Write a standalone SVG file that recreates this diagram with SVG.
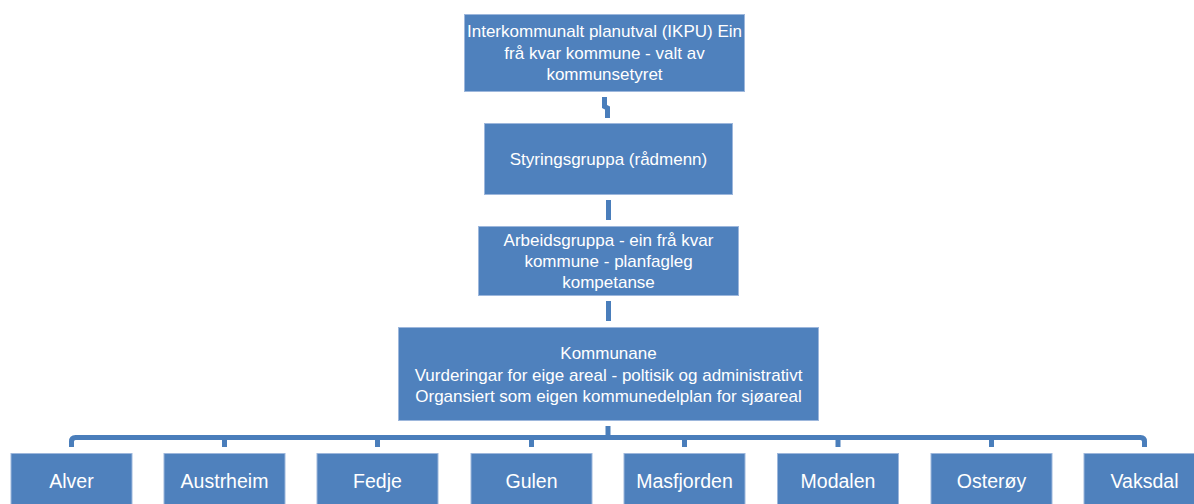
<svg xmlns="http://www.w3.org/2000/svg" width="1194" height="504" viewBox="0 0 1194 504">
<style>
.box{fill:#4f81bd;stroke:#9db7dc;stroke-width:1}
.t{fill:#ffffff;font-family:"Liberation Sans",Arial,sans-serif;font-size:17px;text-anchor:middle}
.b{font-size:19.5px}
.c{fill:none;stroke:#4a7ebb;stroke-width:5}
</style>
<rect width="1194" height="504" fill="#ffffff"/>
<g id="connectors">
<path class="c" d="M604.5,97 V106.5 L607.5,108 V118"/>
<path class="c" d="M608.5,200 V220"/>
<path class="c" d="M608.5,301 V321"/>
<path class="c" d="M608,426 V437"/>
<path class="c" d="M71.5,447 V441.5 Q71.5,437.5 75.5,437.5 H1140.5 Q1144.5,437.5 1144.5,441.5 V447"/>
<path class="c" d="M224.5,437 V447 M377.5,437 V447 M531.5,437 V447 M684.5,437 V447 M838,437 V447 M991.5,437 V447"/>
</g>
<g id="ikpu">
<rect class="box" x="464.5" y="14.5" width="280" height="77"/>
<text class="t" x="604.5" y="37">Interkommunalt planutval (IKPU) Ein</text>
<text class="t" x="604.5" y="59">frå kvar kommune - valt av</text>
<text class="t" x="604.5" y="80">kommunsetyret</text>
</g>
<g id="styringsgruppa">
<rect class="box" x="484.5" y="123.5" width="248" height="71"/>
<text class="t" x="608.5" y="165">Styringsgruppa (rådmenn)</text>
</g>
<g id="arbeidsgruppa">
<rect class="box" x="478.5" y="226.5" width="260" height="69"/>
<text class="t" x="608.5" y="246">Arbeidsgruppa - ein frå kvar</text>
<text class="t" x="608.5" y="267">kommune - planfagleg</text>
<text class="t" x="608.5" y="288">kompetanse</text>
</g>
<g id="kommunane">
<rect class="box" x="398.5" y="327.5" width="420" height="93"/>
<text class="t" x="608.5" y="359">Kommunane</text>
<text class="t" x="608.5" y="381">Vurderingar for eige areal - poltisik og administrativt</text>
<text class="t" x="608.5" y="402">Organsiert som eigen kommunedelplan for sjøareal</text>
</g>
<g id="alver">
<rect class="box" x="11" y="453.5" width="121" height="60"/>
<text class="t b" x="71.5" y="488">Alver</text>
</g>
<g id="austrheim">
<rect class="box" x="164" y="453.5" width="121" height="60"/>
<text class="t b" x="224.5" y="488">Austrheim</text>
</g>
<g id="fedje">
<rect class="box" x="317" y="453.5" width="121" height="60"/>
<text class="t b" x="377.5" y="488">Fedje</text>
</g>
<g id="gulen">
<rect class="box" x="471" y="453.5" width="121" height="60"/>
<text class="t b" x="531.5" y="488">Gulen</text>
</g>
<g id="masfjorden">
<rect class="box" x="624" y="453.5" width="121" height="60"/>
<text class="t b" x="684.5" y="488">Masfjorden</text>
</g>
<g id="modalen">
<rect class="box" x="777.5" y="453.5" width="121" height="60"/>
<text class="t b" x="838" y="488">Modalen</text>
</g>
<g id="osteroy">
<rect class="box" x="931" y="453.5" width="121" height="60"/>
<text class="t b" x="991.5" y="488">Osterøy</text>
</g>
<g id="vaksdal">
<rect class="box" x="1084" y="453.5" width="121" height="60"/>
<text class="t b" x="1144.5" y="488">Vaksdal</text>
</g>
</svg>
